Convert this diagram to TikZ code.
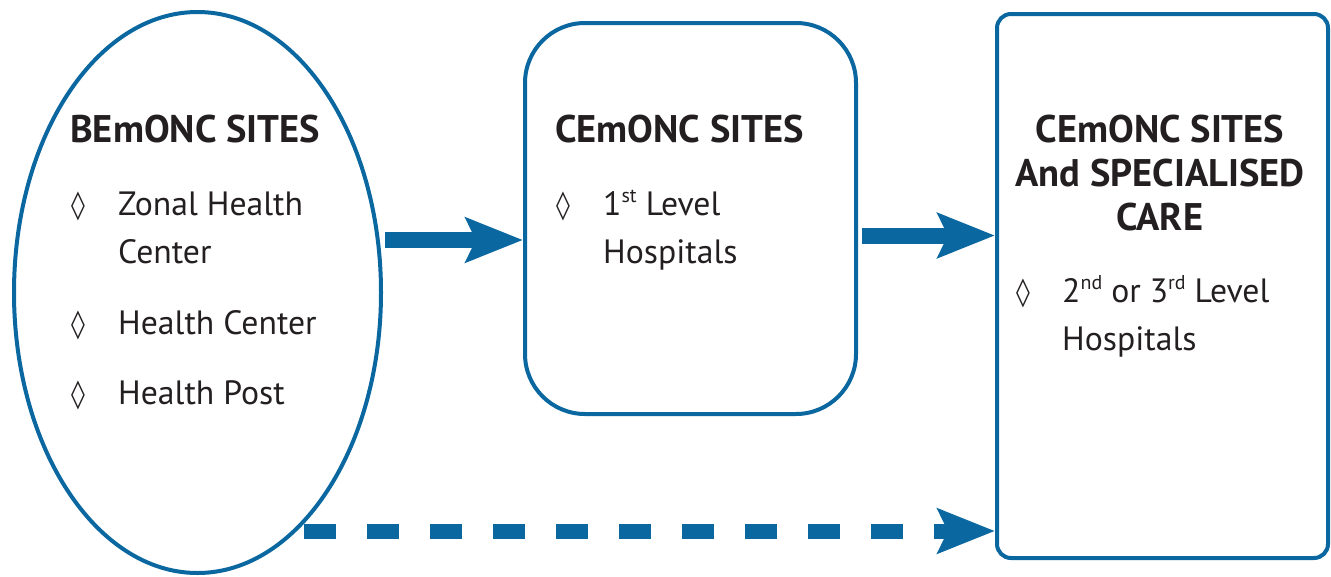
\documentclass[tikz,border=0pt]{standalone}
\usepackage{fontspec}
\setmainfont{PT Sans}
\newfontfamily\symfont{DejaVu Sans}
\usetikzlibrary{shapes.geometric,arrows.meta}
\definecolor{cblue}{RGB}{10,103,160}
\definecolor{ctext}{RGB}{35,31,32}
\newcommand{\supx}[1]{\raisebox{0.36em}{\fontsize{20}{22}\selectfont #1}}
\begin{document}
\begin{tikzpicture}[x=1pt,y=-1pt,
  shapeline/.style={draw=cblue,line width=4pt,inner sep=0pt},
  title/.style={font=\fontsize{38.5}{44}\selectfont\bfseries,text=ctext,inner sep=0pt,anchor=base west},
  item/.style={font=\fontsize{33.7}{40}\selectfont,text=ctext,inner sep=0pt,anchor=base west},
  bullet/.style={font=\symfont\bfseries\fontsize{28}{30}\selectfont,text=ctext,inner sep=0pt,anchor=base west},
  fatarrow/.style={draw=cblue,line width=16pt,-{Stealth[length=57pt,width=44pt,inset=10pt]}},
  dasharrow/.style={draw=cblue,line width=15pt,dash pattern=on 32pt off 31pt,-{Stealth[length=57pt,width=44pt,inset=10pt]}}
]
\useasboundingbox (0,0) rectangle (1331,576);
% shapes
\node[shapeline,ellipse,minimum width=367pt,minimum height=561pt] (ell) at (197.5,292.5) {};
\node[shapeline,rectangle,rounded corners=60pt,minimum width=331pt,minimum height=391pt] (b2) at (690.5,218.5) {};
\node[shapeline,rectangle,rounded corners=14pt,minimum width=331pt,minimum height=544pt] (b3) at (1162.5,286) {};
% ellipse text
\node[title] (t1) at (70,142) {BEmONC SITES};
\node[bullet] (d11) at (71,214) {◊};
\node[item] (i11) at (118,215) {Zonal Health};
\node[item] (i12) at (118,263) {Center};
\node[bullet] (d12) at (71,333) {◊};
\node[item] (i13) at (118,334) {Health Center};
\node[bullet] (d13) at (71,403) {◊};
\node[item] (i14) at (118,404) {Health Post};
% box 2 text
\node[title] (t2) at (555,142) {CEmONC SITES};
\node[bullet] (d21) at (556,214) {◊};
\node[item] (i21) at (603,215) {1\supx{st} Level};
\node[item] (i22) at (603,263) {Hospitals};
% box 3 text
\node[title,anchor=base] (t31) at (1160,142) {CEmONC SITES};
\node[title,anchor=base] (t32) at (1160,186) {And SPECIALISED};
\node[title,anchor=base] (t33) at (1160,230) {CARE};
\node[bullet] (d31) at (1016,301) {◊};
\node[item] (i31) at (1062,302) {2\supx{nd} or 3\supx{rd} Level};
\node[item] (i32) at (1062,350) {Hospitals};
% connectors
\coordinate (a1) at (385,240);
\coordinate (a2) at (862,235.5);
\coordinate (a3) at (304,531);
\draw[fatarrow] (a1) -- (b2.west |- a1);
\draw[fatarrow] (a2) -- (b3.west |- a2);
\draw[dasharrow] (a3) -- (b3.west |- a3);
\end{tikzpicture}
\end{document}
